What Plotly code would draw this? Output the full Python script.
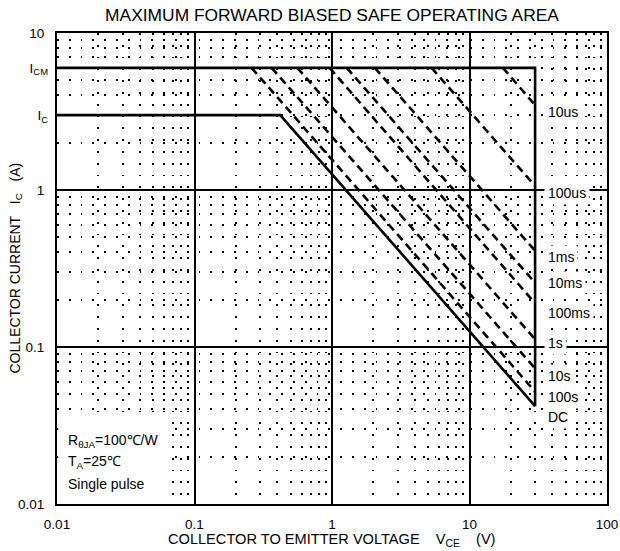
import plotly.graph_objects as go

# ---------------- data ----------------
# rating limits
I_CM = 6.0          # peak collector current (A)
I_C = 3.0           # continuous collector current (A)
V_CEO = 30.0        # voltage limit (V)

# DC (solid) boundary: flat at I_C, then constant-power line down to V_CEO
dc_v = [0.01, 0.42, 30.0]
dc_i = [3.0, 3.0, 0.042]

# pulsed (dashed) limits: start on I_CM line at v_start, end on V_CEO line at i_end
pulse_names = ["100s", "10s", "1s", "100ms", "10ms", "1ms", "100us", "10us"]
pulse_v_start = [0.26, 0.364, 0.56, 0.96, 1.28, 2.05, 5.3, 17.5]
pulse_i_end = [0.052, 0.073, 0.112, 0.19, 0.256, 0.41, 1.06, 3.47]

# right-hand labels (top to bottom)
label_texts = ["10us", "100us", "1ms", "10ms", "100ms", "1s", "10s", "100s", "DC"]

# axis ticks
x_tickvals = [0.01, 0.1, 1, 10, 100]
x_ticktext = ["0.01", "0.1", "1", "10", "100"]
y_tickvals = [0.01, 0.1, 1, 10]
y_ticktext = ["0.01", "0.1", "1", "10"]
y_special_vals = [I_C, I_CM]
y_special_text = ["I<sub>C</sub>", "I<sub>CM</sub>"]

# ---------------- figure ----------------
FONT = "Arial, Liberation Sans, Helvetica, sans-serif"
fig = go.Figure()

# ICM line and vertical VCEO limit
fig.add_trace(go.Scatter(
    x=[0.01, V_CEO, V_CEO], y=[I_CM, I_CM, dc_i[-1]],
    mode="lines", line=dict(color="black", width=2.6), hoverinfo="skip",
    showlegend=False))
# DC line
fig.add_trace(go.Scatter(
    x=dc_v, y=dc_i, mode="lines", line=dict(color="black", width=2.6),
    hoverinfo="skip", showlegend=False))
# pulse lines
for name, vs, ie in zip(pulse_names, pulse_v_start, pulse_i_end):
    fig.add_trace(go.Scatter(
        x=[vs, V_CEO], y=[I_CM, ie], mode="lines", name=name,
        line=dict(color="black", width=2.6, dash="8px,5px"),
        hoverinfo="skip", showlegend=False))

minor_x = [m * 10 ** e for e in range(-2, 2) for m in range(2, 10)]
minor_y = [m * 10 ** e for e in range(-2, 1) for m in range(2, 10)]

dot = "1.8px,10px"
TICKSIZE = 13.5
fig.update_layout(
    width=620, height=551,
    margin=dict(l=57, r=13, t=33, b=47),
    paper_bgcolor="white", plot_bgcolor="white",
    font=dict(family=FONT, size=13, color="black"),
    title=dict(text="MAXIMUM FORWARD BIASED SAFE OPERATING AREA",
               x=0.5, xref="paper", xanchor="center",
               y=1 - 15 / 551, yref="container", yanchor="middle",
               font=dict(family=FONT, size=17.4, color="black")),
    xaxis=dict(type="log", range=[-2, 2], tickvals=x_tickvals, ticktext=x_ticktext,
               showgrid=True, gridcolor="black", gridwidth=1.6,
               showline=True, mirror=True, linecolor="black", linewidth=2.2,
               ticks="", ticklabelstandoff=7, zeroline=False, automargin=False,
               tickfont=dict(size=TICKSIZE),
               minor=dict(tickvals=minor_x, showgrid=True, gridcolor="black",
                          gridwidth=1.8, griddash=dot, ticks="")),
    yaxis=dict(type="log", range=[-2, 1], tickvals=y_tickvals, ticktext=y_ticktext,
               showgrid=True, gridcolor="black", gridwidth=1.6,
               showline=True, mirror=True, linecolor="black", linewidth=2.2,
               ticks="", ticklabelstandoff=8, zeroline=False, automargin=False,
               tickfont=dict(size=TICKSIZE),
               minor=dict(tickvals=minor_y, showgrid=True, gridcolor="black",
                          gridwidth=1.8, griddash=dot, ticks="")),
    yaxis2=dict(type="log", range=[-2, 1], overlaying="y", side="left",
                tickvals=y_special_vals, ticktext=y_special_text,
                showgrid=False, showline=False, ticks="", zeroline=False,
                automargin=False,
                ticklabelstandoff=8, tickfont=dict(size=TICKSIZE)),
)
# dummy trace to activate yaxis2
fig.add_trace(go.Scatter(x=[None], y=[None], yaxis="y2", showlegend=False,
                         hoverinfo="skip"))

# white box behind the bottom-left note
fig.add_shape(type="rect", xref="x", yref="y", x0=0.0102, x1=0.065, y0=0.0102, y1=0.0343,
              fillcolor="white", line=dict(width=0), layer="between")

note_lines = ["R<sub>θJA</sub>=100℃/W", "T<sub>A</sub>=25℃", "Single pulse"]
note_y_px = [441, 462, 484]
for t, ypx in zip(note_lines, note_y_px):
    fig.add_annotation(x=0, xref="paper", xanchor="left", xshift=9,
                       y=1 - (ypx - 33) / 471, yref="paper", yanchor="middle",
                       text=t, showarrow=False, font=dict(size=14))

# right labels
label_y_px = [112, 193, 257, 283, 313, 343, 376, 397, 417]
for t, ypx in zip(label_texts, label_y_px):
    fig.add_annotation(x=(544 - 57) / 550, xref="paper", xanchor="left",
                       y=1 - (ypx - 33) / 471, yref="paper", yanchor="middle",
                       text=t, showarrow=False, bgcolor="white", borderpad=3,
                       font=dict(size=14))

# axis titles
sp = "\u00a0" * 4
fig.add_annotation(x=0.5, xref="paper", y=0, yref="paper", yanchor="middle",
                   yshift=-(540 - 504), showarrow=False,
                   text="COLLECTOR TO EMITTER VOLTAGE" + sp + "V<sub>CE</sub>" + sp + "(V)",
                   font=dict(size=14.6))
fig.add_annotation(x=0, xref="paper", xanchor="center", xshift=-42,
                   y=0.5, yref="paper", yanchor="middle", textangle=-90,
                   showarrow=False,
                   text="COLLECTOR CURRENT\u00a0\u00a0\u00a0I<sub>C</sub>\u00a0\u00a0\u00a0(A)",
                   font=dict(size=14))

fig.write_html("out.html", config={"displayModeBar": False},
               post_script="document.body.style.margin='0';document.body.style.padding='0';")
